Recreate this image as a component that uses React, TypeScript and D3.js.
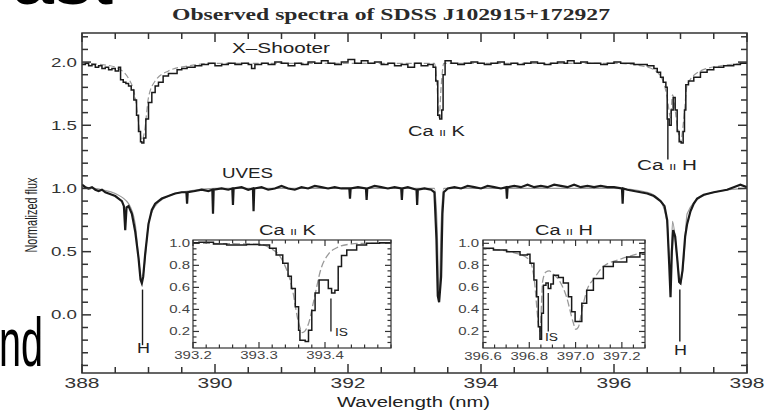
import React from "react";
import * as d3 from "d3";

// ---------- data ----------
// X-Shooter spectrum (offset by +1 in normalized flux)
const xsWave = [388.00,388.05,388.10,388.15,388.20,388.25,388.30,388.35,388.40,388.45,388.50,388.55,388.58,388.62,388.66,388.70,388.74,388.78,388.82,388.85,388.88,388.90,388.93,388.96,389.00,389.05,389.10,389.15,389.22,389.30,389.43,389.50,389.58,389.70,389.80,389.90,390.00,390.10,390.20,390.30,390.40,390.50,390.55,390.60,390.70,390.80,390.90,391.00,391.10,391.20,391.30,391.40,391.50,391.60,391.70,391.80,391.90,392.00,392.10,392.20,392.30,392.40,392.50,392.60,392.70,392.80,392.90,393.00,393.10,393.20,393.28,393.32,393.35,393.38,393.41,393.43,393.46,393.55,393.65,393.75,393.85,393.95,394.05,394.15,394.25,394.35,394.45,394.55,394.65,394.75,394.85,394.95,395.05,395.15,395.25,395.30,395.40,395.50,395.60,395.70,395.80,395.90,396.00,396.10,396.20,396.30,396.40,396.50,396.60,396.65,396.70,396.74,396.78,396.80,396.83,396.86,396.89,396.92,396.95,396.98,397.01,397.04,397.06,397.08,397.12,397.20,397.30,397.40,397.50,397.65,397.80,397.90,398.00];
const xsFlux = [1.98,1.99,1.97,1.98,1.96,1.97,1.95,1.96,1.94,1.95,1.93,1.96,1.86,1.84,1.83,1.81,1.78,1.70,1.58,1.45,1.37,1.36,1.40,1.55,1.68,1.76,1.81,1.84,1.89,1.91,1.94,1.95,1.96,1.97,1.98,1.99,1.97,1.98,1.99,1.98,1.99,1.98,1.95,1.98,1.99,1.98,2.00,1.99,1.97,1.99,1.98,2.00,1.99,2.01,1.99,1.98,2.00,2.02,1.99,2.01,1.99,2.00,1.98,1.99,1.97,1.98,1.96,1.99,1.97,1.98,1.96,1.85,1.58,1.55,1.62,1.90,2.01,1.99,1.98,1.99,2.00,1.99,1.98,1.99,2.00,1.98,1.99,1.98,1.99,2.00,1.99,1.98,1.99,2.00,1.99,2.01,1.99,2.00,1.99,1.99,1.98,1.99,2.00,1.99,1.99,1.98,1.98,1.97,1.95,1.92,1.88,1.84,1.80,1.55,1.50,1.62,1.72,1.62,1.45,1.37,1.36,1.45,1.62,1.82,1.85,1.88,1.92,1.94,1.96,1.97,1.98,1.99,2.00];

const xsModelWave = [388.0,388.3,388.5,388.7,388.8,388.87,388.9,388.94,389.0,389.1,389.3,389.6,390.0,393.3,393.34,393.37,393.40,393.44,396.0,396.5,396.7,396.8,396.85,396.88,396.95,397.0,397.05,397.1,397.3,397.6,398.0];
const xsModelFlux = [1.99,1.98,1.96,1.87,1.72,1.45,1.38,1.45,1.72,1.85,1.93,1.97,1.99,1.99,1.80,1.56,1.80,1.99,1.99,1.96,1.89,1.72,1.56,1.74,1.50,1.37,1.55,1.82,1.93,1.97,1.99];

// UVES spectrum
const uvWave = [388.00,388.05,388.10,388.15,388.20,388.25,388.30,388.35,388.40,388.45,388.50,388.55,388.60,388.63,388.65,388.67,388.70,388.75,388.80,388.85,388.88,388.90,388.92,388.95,389.00,389.05,389.10,389.20,389.30,389.40,389.50,389.57,389.58,389.59,389.70,389.80,389.90,389.96,389.97,389.98,390.10,390.20,390.26,390.27,390.28,390.40,390.50,390.57,390.58,390.59,390.70,390.80,390.90,391.00,391.10,391.20,391.30,391.40,391.50,391.60,391.70,391.80,391.90,392.02,392.03,392.04,392.15,392.27,392.28,392.29,392.40,392.50,392.60,392.70,392.80,392.81,392.82,392.90,393.03,393.04,393.05,393.15,393.25,393.30,393.33,393.35,393.37,393.40,393.41,393.42,393.44,393.50,393.60,393.70,393.80,393.90,394.00,394.10,394.20,394.30,394.38,394.39,394.40,394.50,394.60,394.70,394.80,394.90,395.00,395.10,395.20,395.30,395.40,395.50,395.60,395.70,395.80,395.90,396.00,396.12,396.13,396.14,396.20,396.30,396.40,396.50,396.60,396.70,396.76,396.80,396.83,396.85,396.87,396.89,396.92,396.95,396.98,397.00,397.03,397.07,397.10,397.15,397.20,397.25,397.35,397.50,397.60,397.70,397.80,397.90,398.00];
const uvFlux = [1.03,1.01,1.00,1.01,0.99,0.98,0.99,0.97,0.96,0.95,0.94,0.92,0.90,0.86,0.67,0.85,0.86,0.80,0.66,0.45,0.28,0.25,0.30,0.48,0.72,0.83,0.88,0.92,0.94,0.96,0.97,0.97,0.88,0.97,0.98,0.99,0.98,0.99,0.80,0.99,1.00,0.99,1.00,0.87,1.00,1.01,0.99,1.00,0.82,1.00,1.01,0.99,1.00,1.02,1.00,0.99,1.01,1.00,1.02,1.01,1.00,1.01,1.00,1.00,0.92,1.00,1.01,1.00,0.91,1.00,1.02,1.01,1.00,1.01,1.00,0.91,1.00,1.01,0.99,0.87,0.99,1.00,0.99,0.97,0.60,0.15,0.10,0.30,0.55,0.80,0.97,1.00,1.01,1.00,1.02,1.01,1.00,1.02,1.01,1.00,1.01,0.92,1.01,1.02,1.01,1.03,1.01,1.02,1.01,1.03,1.02,1.01,1.03,1.01,1.02,1.01,1.02,1.01,1.01,1.00,0.88,1.00,0.99,0.98,0.97,0.96,0.94,0.90,0.86,0.75,0.40,0.14,0.50,0.67,0.62,0.45,0.26,0.25,0.35,0.62,0.72,0.82,0.88,0.92,0.95,0.97,0.98,0.99,1.01,1.03,1.01];

const uvModelWave = [388.0,388.3,388.5,388.7,388.8,388.86,388.9,388.94,389.0,389.1,389.3,389.6,390.0,393.3,393.34,393.37,393.40,393.44,396.0,396.5,396.7,396.8,396.85,396.88,396.95,397.0,397.05,397.1,397.3,397.6,398.0];
const uvModelFlux = [1.01,0.99,0.96,0.88,0.72,0.40,0.27,0.40,0.72,0.86,0.94,0.98,1.00,1.00,0.70,0.12,0.70,1.00,1.00,0.97,0.90,0.72,0.30,0.74,0.45,0.24,0.45,0.80,0.93,0.98,1.00];

// Inset Ca II K
const kWave = [393.200,393.209,393.231,393.251,393.281,393.301,393.316,393.326,393.336,393.344,393.349,393.355,393.360,393.362,393.370,393.375,393.380,393.385,393.391,393.397,393.405,393.410,393.415,393.420,393.425,393.433,393.448,393.463,393.483,393.500];
const kFlux = [1.005,1.01,0.994,0.985,0.99,0.985,0.955,0.894,0.82,0.70,0.59,0.425,0.21,0.12,0.11,0.21,0.39,0.55,0.667,0.667,0.59,0.55,0.575,0.79,0.89,0.94,0.985,1.0,1.005,1.0];
const kModelWave = [393.200,393.300,393.316,393.335,393.350,393.360,393.366,393.375,393.383,393.394,393.405,393.418,393.435,393.455,393.500];
const kModelFlux = [1.0,0.99,0.96,0.85,0.60,0.28,0.19,0.27,0.48,0.77,0.90,0.96,0.99,1.0,1.0];

// Inset Ca II H
const hWave = [396.600,396.645,396.702,396.760,396.792,396.803,396.820,396.832,396.839,396.846,396.853,396.861,396.872,396.882,396.893,396.904,396.926,396.947,396.969,396.983,396.998,397.012,397.027,397.048,397.077,397.120,397.163,397.221,397.278,397.300];
const hFlux = [0.955,0.94,0.924,0.894,0.90,0.82,0.667,0.515,0.243,0.13,0.365,0.62,0.64,0.59,0.63,0.71,0.69,0.64,0.515,0.38,0.29,0.29,0.455,0.575,0.68,0.79,0.83,0.876,0.915,0.92];
const hModelWave = [396.600,396.760,396.803,396.822,396.839,396.846,396.858,396.872,396.886,396.904,396.930,396.960,396.990,397.000,397.012,397.030,397.050,397.080,397.120,397.200,397.300];
const hModelFlux = [0.955,0.90,0.84,0.66,0.28,0.20,0.66,0.74,0.75,0.72,0.66,0.52,0.28,0.22,0.24,0.42,0.58,0.68,0.79,0.86,0.92];

// axis ticks and labels
const mainXMajor = [388, 390, 392, 394, 396, 398];
const mainYMajor = [0.0, 0.5, 1.0, 1.5, 2.0];
const kXMajor = [393.2, 393.3, 393.4];
const hXMajor = [396.6, 396.8, 397.0, 397.2];
const insetYMajor = [0.2, 0.4, 0.6, 0.8, 1.0];

// markers [wave, fluxTop, fluxBottom]
const mainMarkers = [[388.91, 0.2, -0.24], [396.99, 0.2, -0.21], [396.81, 1.55, 1.23]];
const kIS = [393.409, 0.5, 0.2];
const hIS = [396.882, 0.55, 0.2];

const SANS = "'Liberation Sans', Arial, Helvetica, sans-serif";
const SERIF = "'Liberation Serif', 'Times New Roman', serif";
const INK = "#1a1a1a";
const AX = "#333";

function Txt({ x, y, w, size, children, weight, family, fill }: any) {
  return (
    <text x={x} y={y} textLength={w} lengthAdjust="spacingAndGlyphs" fontSize={size}
      fontFamily={family || SANS} fontWeight={weight || "normal"} fill={fill || "#222"}>
      {children}
    </text>
  );
}

function Ca({ x, y, w, ion, size }: any) {
  return (
    <text x={x} y={y} textLength={w} lengthAdjust="spacingAndGlyphs" fontSize={size} fontFamily={SANS} fill="#222">
      Ca <tspan fontSize={size * 0.62}>II</tspan> {ion}
    </text>
  );
}

function Frame({ xs, ys, xMinor, yMinor, xMajor, yMajor, majLen, minLen, sw }: any) {
  const [x0, x1] = xs.range();
  const [y0, y1] = ys.range(); // y0 bottom, y1 top
  const els: any[] = [];
  const isMaj = (arr: number[], v: number) => arr.some((m) => Math.abs(m - v) < 1e-6);
  xMinor.forEach((v: number, i: number) => {
    const L = isMaj(xMajor, v) ? majLen : minLen;
    const px = xs(v);
    els.push(<line key={"xb" + i} x1={px} x2={px} y1={y0} y2={y0 - L} />);
    els.push(<line key={"xt" + i} x1={px} x2={px} y1={y1} y2={y1 + L} />);
  });
  yMinor.forEach((v: number, i: number) => {
    const L = isMaj(yMajor, v) ? majLen : minLen;
    const py = ys(v);
    els.push(<line key={"yl" + i} x1={x0} x2={x0 + L} y1={py} y2={py} />);
    els.push(<line key={"yr" + i} x1={x1} x2={x1 - L} y1={py} y2={py} />);
  });
  return (
    <g stroke={AX} strokeWidth={sw} fill="none">
      {els}
      <rect x={x0} y={y1} width={x1 - x0} height={y0 - y1} />
    </g>
  );
}

export default function App() {
  const W = 765, H = 412;
  const x = d3.scaleLinear().domain([388, 398]).range([82, 747]);
  const y = d3.scaleLinear().domain([-0.46, 2.23]).range([373, 33]);
  const kx = d3.scaleLinear().domain([393.2, 393.5]).range([193, 391]);
  const hx = d3.scaleLinear().domain([396.6, 397.3]).range([483, 645]);
  const iy = d3.scaleLinear().domain([0.05, 1.03]).range([348, 240]);

  const mk = (xs: any, ys: any, wv: number[], fl: number[], curve: any) =>
    d3.line<number>().x((_, i) => xs(wv[i])).y((_, i) => ys(fl[i])).curve(curve)(wv.map((_, i) => i)) || "";

  const mainXMinor = d3.range(388, 398.001, 0.5);
  const mainYMinor = d3.range(-0.4, 2.201, 0.1).map((v) => Math.round(v * 10) / 10);
  const kXMinor = d3.range(393.2, 393.5001, 0.02).map((v) => Math.round(v * 100) / 100);
  const hXMinor = d3.range(396.6, 397.3001, 0.05).map((v) => Math.round(v * 100) / 100);
  const iYMinor = d3.range(0.1, 1.0001, 0.05).map((v) => Math.round(v * 100) / 100);

  return (
    <svg width={W} height={H} viewBox={`0 0 ${W} ${H}`}
      style={{ position: "absolute", left: 0, top: 0, background: "#fff", display: "block" }}>
      <defs>
        <clipPath id="cMain"><rect x={82} y={33} width={665} height={340} /></clipPath>
        <clipPath id="cK"><rect x={193} y={240} width={198} height={108} /></clipPath>
        <clipPath id="cH"><rect x={483} y={240} width={162} height={108} /></clipPath>
      </defs>
      <rect x={0} y={0} width={W} height={H} fill="#fff" />

      {/* slide remnants */}
      <Txt x={12} y={4} w={101} size={66} fill="#000">ast</Txt>
      <Txt x={-1} y={366} w={44} size={68} fill="#000">nd</Txt>

      {/* title */}
      <Txt x={172} y={20} w={438} size={16} weight="bold" family={SERIF} fill="#2a2a2a">
        Observed spectra of SDSS J102915+172927
      </Txt>

      {/* main spectra */}
      <g clipPath="url(#cMain)" fill="none">
        <path d={mk(x, y, xsModelWave, xsModelFlux, d3.curveMonotoneX)} stroke="#999" strokeWidth={1.2} strokeDasharray="6 3" />
        <path d={mk(x, y, uvModelWave, uvModelFlux, d3.curveMonotoneX)} stroke="#999" strokeWidth={1.2} />
        <path d={mk(x, y, xsWave, xsFlux, d3.curveStepAfter)} stroke={INK} strokeWidth={1.5} />
        <path d={mk(x, y, uvWave, uvFlux, d3.curveLinear)} stroke={INK} strokeWidth={2.2} />
      </g>
      <g stroke={INK} strokeWidth={1.4}>
        {mainMarkers.map((m, i) => (
          <line key={i} x1={x(m[0])} x2={x(m[0])} y1={y(m[1])} y2={y(m[2])} />
        ))}
      </g>

      <Frame xs={x} ys={y} xMinor={mainXMinor} yMinor={mainYMinor} xMajor={mainXMajor} yMajor={mainYMajor} majLen={9} minLen={6} sw={1.5} />

      {/* main tick labels */}
      <g fontFamily={SANS} fill="#333">
        {mainYMajor.map((v) => (
          <text key={"yl" + v} transform={`translate(77,${y(v) + 4.5}) scale(1.5,1)`} textAnchor="end" fontSize={12.5}>
            {v.toFixed(1)}
          </text>
        ))}
        {mainXMajor.map((v) => (
          <text key={"xl" + v} transform={`translate(${x(v)},388) scale(1.5,1)`} textAnchor="middle" fontSize={14}>
            {v}
          </text>
        ))}
      </g>
      <Txt x={337} y={407} w={153} size={14}>Wavelength (nm)</Txt>
      <g transform="translate(37,215) scale(1.5,1) rotate(-90)">
        <Txt x={-37.5} y={0} w={75} size={11}>Normalized flux</Txt>
      </g>

      {/* main annotations */}
      <Txt x={232} y={53} w={98} size={14}>X–Shooter</Txt>
      <Txt x={222} y={178} w={51} size={14}>UVES</Txt>
      <Ca x={408} y={136} w={57} size={14} ion="K" />
      <Ca x={637} y={170} w={60} size={14} ion="H" />
      <Txt x={137} y={353} w={13} size={14}>H</Txt>
      <Txt x={674} y={355} w={13} size={14}>H</Txt>

      {/* inset Ca II K */}
      <rect x={193} y={240} width={198} height={108} fill="#fff" />
      <g clipPath="url(#cK)" fill="none">
        <path d={mk(kx, iy, kModelWave, kModelFlux, d3.curveMonotoneX)} stroke="#999" strokeWidth={1.3} strokeDasharray="7 3" />
        <path d={mk(kx, iy, kWave, kFlux, d3.curveStepAfter)} stroke={INK} strokeWidth={1.5} />
      </g>
      <line x1={kx(kIS[0])} x2={kx(kIS[0])} y1={iy(kIS[1])} y2={iy(kIS[2])} stroke={INK} strokeWidth={1.3} />
      <Frame xs={kx} ys={iy} xMinor={kXMinor} yMinor={iYMinor} xMajor={kXMajor} yMajor={insetYMajor} majLen={6} minLen={3.5} sw={1.2} />
      <Ca x={259} y={235} w={57} size={14} ion="K" />
      <Txt x={335} y={336} w={13} size={10}>IS</Txt>

      {/* inset Ca II H */}
      <rect x={483} y={240} width={162} height={108} fill="#fff" />
      <g clipPath="url(#cH)" fill="none">
        <path d={mk(hx, iy, hModelWave, hModelFlux, d3.curveMonotoneX)} stroke="#999" strokeWidth={1.3} strokeDasharray="7 3" />
        <path d={mk(hx, iy, hWave, hFlux, d3.curveStepAfter)} stroke={INK} strokeWidth={1.5} />
      </g>
      <line x1={hx(hIS[0])} x2={hx(hIS[0])} y1={iy(hIS[1])} y2={iy(hIS[2])} stroke={INK} strokeWidth={1.3} />
      <Frame xs={hx} ys={iy} xMinor={hXMinor} yMinor={iYMinor} xMajor={hXMajor} yMajor={insetYMajor} majLen={6} minLen={3.5} sw={1.2} />
      <Ca x={535} y={235} w={58} size={14} ion="H" />
      <Txt x={545} y={341} w={13} size={10}>IS</Txt>

      {/* inset tick labels */}
      <g fontFamily={SANS} fill="#444" fontSize={10}>
        {insetYMajor.map((v) => (
          <text key={"ky" + v} transform={`translate(190,${iy(v) + 3.5}) scale(1.5,1)`} textAnchor="end">{v.toFixed(1)}</text>
        ))}
        {insetYMajor.map((v) => (
          <text key={"hy" + v} transform={`translate(479,${iy(v) + 3.5}) scale(1.5,1)`} textAnchor="end">{v.toFixed(1)}</text>
        ))}
        {kXMajor.map((v) => (
          <text key={"kx" + v} transform={`translate(${kx(v)},359) scale(1.5,1)`} textAnchor="middle">{v.toFixed(1)}</text>
        ))}
        {hXMajor.map((v) => (
          <text key={"hx" + v} transform={`translate(${hx(v)},360) scale(1.5,1)`} textAnchor="middle">{v.toFixed(1)}</text>
        ))}
      </g>
    </svg>
  );
}
